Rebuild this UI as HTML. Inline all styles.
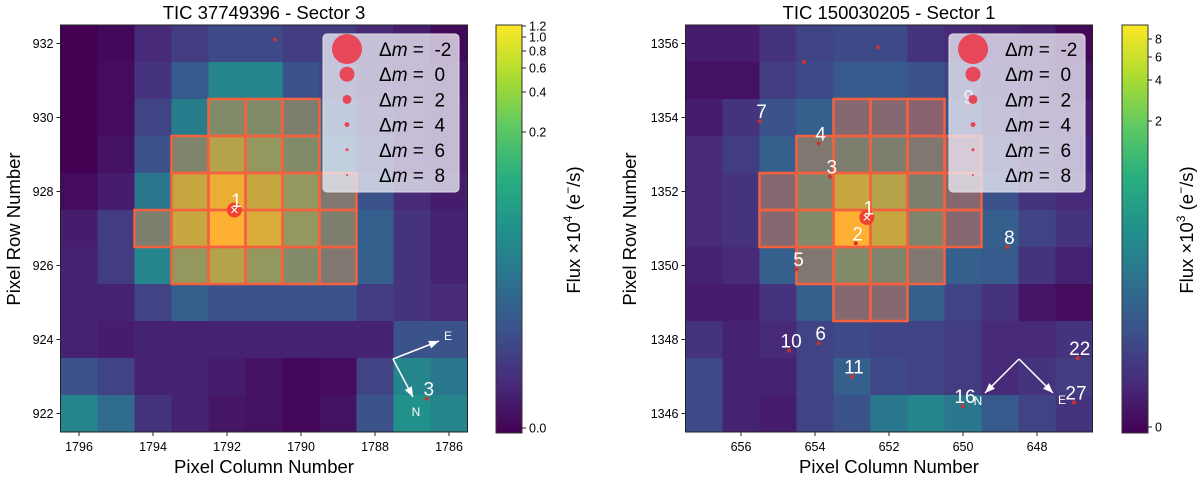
<!DOCTYPE html>
<html><head><meta charset="utf-8"><style>
html,body{margin:0;padding:0;background:#fff;}
svg{display:block;font-family:"Liberation Sans","DejaVu Sans",sans-serif;}
</style></head><body>
<svg id="fig" width="1200" height="477" viewBox="0 0 1200 477" xmlns="http://www.w3.org/2000/svg"></svg>
<script>
// ---------- data ----------
const leftRows = [932,931,930,929,928,927,926,925,924,923,922];
const leftCols = [1796,1795,1794,1793,1792,1791,1790,1789,1788,1787,1786];
const leftFlux = [
[0.0,0.02,0.12,0.18,0.22,0.22,0.18,0.18,0.12,0.08,0.02],
[0.0,0.03,0.15,0.28,0.45,0.45,0.25,0.2,0.12,0.08,0.05],
[0.0,0.03,0.2,0.42,0.6,0.6,0.5,0.3,0.15,0.1,0.06],
[0.0,0.05,0.25,0.55,0.8,0.7,0.6,0.35,0.2,0.1,0.06],
[0.03,0.08,0.4,0.85,0.95,0.85,0.7,0.45,0.25,0.12,0.08],
[0.08,0.18,0.5,0.85,1.0,0.9,0.7,0.5,0.3,0.15,0.1],
[0.1,0.18,0.45,0.7,0.8,0.7,0.6,0.45,0.3,0.15,0.1],
[0.1,0.1,0.2,0.3,0.25,0.25,0.25,0.25,0.18,0.15,0.12],
[0.1,0.08,0.1,0.1,0.1,0.1,0.1,0.1,0.1,0.25,0.25],
[0.25,0.2,0.1,0.1,0.08,0.05,0.02,0.03,0.2,0.45,0.4],
[0.45,0.35,0.15,0.1,0.06,0.05,0.02,0.05,0.25,0.5,0.45]];
const leftAperture = [[2,4],[2,5],[2,6],[3,3],[3,4],[3,5],[3,6],[4,3],[4,4],[4,5],[4,6],[4,7],
[5,2],[5,3],[5,4],[5,5],[5,6],[5,7],[6,3],[6,4],[6,5],[6,6],[6,7]];
const leftStars = [{id:"1",col:1791.8,row:927.5,main:true},{id:"3",col:1786.6,row:922.4},{id:"",col:1790.7,row:932.1}];
const leftXTicks = [1796,1794,1792,1790,1788,1786];
const leftYTicks = [932,930,928,926,924,922];
const leftCbTicks = [["1.2",26],["1.0",37],["0.8",51],["0.6",68],["0.4",92],["0.2",132],["0.0",428]];

const rightRows = [1356,1355,1354,1353,1352,1351,1350,1349,1348,1347,1346];
const rightCols = [657,656,655,654,653,652,651,650,649,648,647];
const rightFlux = [
[0.08,0.08,0.15,0.2,0.22,0.22,0.15,0.12,0.1,0.08,0.02],
[0.05,0.05,0.18,0.22,0.28,0.28,0.25,0.2,0.12,0.08,0.05],
[0.08,0.15,0.25,0.3,0.35,0.35,0.3,0.25,0.15,0.1,0.08],
[0.12,0.18,0.3,0.45,0.5,0.5,0.45,0.3,0.2,0.12,0.1],
[0.12,0.15,0.35,0.55,0.85,0.8,0.5,0.35,0.25,0.15,0.12],
[0.12,0.15,0.35,0.6,1.0,0.85,0.55,0.35,0.3,0.2,0.15],
[0.1,0.12,0.3,0.45,0.6,0.55,0.45,0.3,0.28,0.15,0.1],
[0.08,0.08,0.15,0.3,0.35,0.35,0.3,0.2,0.15,0.06,0.03],
[0.15,0.1,0.12,0.2,0.22,0.2,0.2,0.18,0.12,0.12,0.15],
[0.22,0.1,0.1,0.2,0.3,0.22,0.2,0.18,0.12,0.15,0.18],
[0.22,0.1,0.08,0.2,0.25,0.4,0.45,0.4,0.28,0.2,0.15]];
const rightAperture = [[2,4],[2,5],[2,6],[3,3],[3,4],[3,5],[3,6],[3,7],[4,2],[4,3],[4,4],[4,5],[4,6],[4,7],
[5,2],[5,3],[5,4],[5,5],[5,6],[5,7],[6,3],[6,4],[6,5],[6,6],[7,4],[7,5]];
const rightStars = [
{id:"1",col:652.6,row:1351.3,main:true},{id:"2",col:652.9,row:1350.6},{id:"3",col:653.6,row:1352.4},
{id:"4",col:653.9,row:1353.3},{id:"5",col:654.5,row:1349.9},{id:"6",col:653.9,row:1347.9},
{id:"7",col:655.5,row:1353.9},{id:"8",col:648.8,row:1350.5},{id:"9",col:649.9,row:1354.3},
{id:"10",col:654.7,row:1347.7},{id:"11",col:653.0,row:1347.0},{id:"16",col:650.0,row:1346.2},
{id:"22",col:646.9,row:1347.5},{id:"27",col:647.0,row:1346.3},{id:"18",col:646.2,row:1351.0},
{id:"",col:654.3,row:1355.5},{id:"",col:652.3,row:1355.9}];
const rightXTicks = [656,654,652,650,648];
const rightYTicks = [1356,1354,1352,1350,1348,1346];
const rightCbTicks = [["8",39],["6",57],["4",80],["2",121],["0",427]];

const legendMags = [-2,0,2,4,6,8];
const legendRadius = [15,7.5,4.5,2.5,1.5,1];

// ---------- helpers ----------
const NS="http://www.w3.org/2000/svg";
const svg=document.getElementById('fig');
function mk(tag,attrs,parent){const e=document.createElementNS(NS,tag);for(const k in attrs)e.setAttribute(k,attrs[k]);(parent||svg).appendChild(e);return e;}
const vstops=[[0,[68,1,84]],[0.125,[71,44,122]],[0.25,[59,82,139]],[0.375,[44,114,142]],[0.5,[33,145,140]],[0.625,[40,174,128]],[0.75,[94,201,98]],[0.875,[173,220,48]],[1,[253,231,37]]];
function viridis(t){t=Math.max(0,Math.min(1,t));for(let i=1;i<vstops.length;i++){if(t<=vstops[i][0]){const a=vstops[i-1],b=vstops[i];const f=(t-a[0])/(b[0]-a[0]);const c=a[1].map((v,j)=>Math.round(v+(b[1][j]-v)*f));return `rgb(${c[0]},${c[1]},${c[2]})`;}}return 'rgb(253,231,37)';}

const defs=mk('defs',{});
const grad=mk('linearGradient',{id:'vir',x1:0,y1:1,x2:0,y2:0},defs);
vstops.forEach(s=>mk('stop',{offset:s[0],'stop-color':viridis(s[0])},grad));

function panel(o){
  const g=mk('g',{});
  
  
  const cell=37, x0=o.x0, y0=o.y0, n=11;
  const xs=c=>x0+(o.cols[0]+0.5-c)*cell;
  const ys=r=>y0+(o.rows[0]+0.5-r)*cell;
  const clipId=o.name+'-clip';
  const cp=mk('clipPath',{id:clipId},defs);mk('rect',{x:x0,y:y0,width:n*cell,height:n*cell},cp);
  const hm=mk('g',{'clip-path':`url(#${clipId})`},g);
  
  
  o.flux.forEach((row,i)=>row.forEach((v,j)=>{
    const r=mk('rect',{x:xs(o.cols[j])-cell/2,y:ys(o.rows[i])-cell/2,width:cell+0.5,height:cell+0.5,fill:viridis(v)},hm);
    
    
  }));
  o.aperture.forEach(([i,j])=>{
    const r=mk('rect',{x:xs(o.cols[j])-cell/2,y:ys(o.rows[i])-cell/2,width:cell,height:cell,fill:'rgba(255,99,71,0.42)',stroke:'#f5603f','stroke-width':2.5},hm);
    
    
  });
  o.stars.forEach(s=>{
    const cx=xs(s.col), cy=ys(s.row);
    if(s.main){
      const c=mk('circle',{cx,cy,r:7.5,fill:'#f0402f'},hm);
      
      
      const t=mk('text',{x:cx,y:cy+5,'font-size':15,fill:'#fff','text-anchor':'middle'},hm);t.textContent='×';
    } else {
      const c=mk('circle',{cx,cy,r:2,fill:'#c8342f'},hm);
      
      
    }
    if(s.id){
      const t=mk('text',{x:cx+2,y:cy-3,'font-size':19,fill:'#fff','text-anchor':'middle'},hm);
      
      
      t.textContent=s.id;
    }
  });
  // compass
  const cg=mk('g',{stroke:'#fff','stroke-width':1.5,fill:'#fff'},hm);
  
  
  o.compass.forEach(a=>{
    const [x1,y1,x2,y2]=a.l;mk('line',{x1,y1,x2,y2},cg);
    const ang=Math.atan2(y2-y1,x2-x1),L=10,W=4;
    const bx=x2-L*Math.cos(ang),by=y2-L*Math.sin(ang);
    mk('polygon',{points:`${x2},${y2} ${bx-W*Math.sin(ang)},${by+W*Math.cos(ang)} ${bx+W*Math.sin(ang)},${by-W*Math.cos(ang)}`,stroke:'none'},cg);
    const t=mk('text',{x:a.t[0],y:a.t[1],'font-size':12,'text-anchor':'middle',stroke:'none'},cg);t.textContent=a.label;
  });
  // legend
  const lg=mk('g',{},g);
  
  
  mk('rect',{x:o.lx,y:34,width:136,height:158,rx:4,fill:'rgba(235,235,245,0.78)',stroke:'#ddd'},lg);
  legendMags.forEach((m,k)=>{
    const y=49+k*25.2;
    const e=mk('g',{},lg);
    
    
    mk('circle',{cx:o.lx+24,cy:y,r:legendRadius[k],fill:'#e8475a'},e);
    const t=mk('text',{x:o.lx+56,y:y+7,'font-size':19,fill:'#000'},e);
    t.innerHTML=`Δ<tspan font-style="italic">m</tspan> =  ${m}`;
    t.style.whiteSpace='pre';
  });
  // frame
  mk('rect',{x:x0,y:y0,width:n*cell,height:n*cell,fill:'none',stroke:'#222','stroke-width':1},g);
  // ticks
  o.xticks.forEach(v=>{const x=xs(v);mk('line',{x1:x,y1:y0+n*cell,x2:x,y2:y0+n*cell+4,stroke:'#222'},g);
    const t=mk('text',{x,y:y0+n*cell+19,'font-size':12.5,'text-anchor':'middle'},g);
    
    t.textContent=v;});
  o.yticks.forEach(v=>{const y=ys(v);mk('line',{x1:x0-4,y1:y,x2:x0,y2:y,stroke:'#222'},g);
    const t=mk('text',{x:x0-7,y:y+4.5,'font-size':12.5,'text-anchor':'end'},g);
    
    t.textContent=v;});
  const cxm=x0+n*cell/2;
  const tt=mk('text',{x:cxm,y:19,'font-size':18.5,'text-anchor':'middle'},g);
  
  tt.textContent=o.title;
  const xl=mk('text',{x:cxm,y:473,'font-size':18.5,'text-anchor':'middle'},g);
  
  xl.textContent='Pixel Column Number';
  const yl=mk('text',{x:0,y:0,'font-size':18.5,'text-anchor':'middle',transform:`translate(${o.ylx},229) rotate(-90)`},g);
  
  yl.textContent='Pixel Row Number';
  // colorbar
  const cb=mk('g',{},g);
  
  
  mk('rect',{x:o.cbx,y:25,width:26,height:408,fill:'url(#vir)',stroke:'#333','stroke-width':1},cb);
  o.cbticks.forEach(([lab,y])=>{mk('line',{x1:o.cbx+26,y1:y,x2:o.cbx+30,y2:y,stroke:'#222'},cb);
    const t=mk('text',{x:o.cbx+33,y:y+4.5,'font-size':12.5},cb);t.textContent=lab;});
  const cl=mk('text',{x:0,y:0,'font-size':18.5,'text-anchor':'middle',transform:`translate(${o.cblx},230) rotate(-90)`},cb);
  
  
  cl.innerHTML=`Flux ×10<tspan font-size="12" dy="-8">${o.exp}</tspan><tspan dy="8"> (e</tspan><tspan font-size="12" dy="-8">−</tspan><tspan dy="8">/s)</tspan>`;
}

panel({name:'left-panel',title:'TIC 37749396 - Sector 3',x0:60.5,y0:25,rows:leftRows,cols:leftCols,flux:leftFlux,aperture:leftAperture,stars:leftStars,
  xticks:leftXTicks,yticks:leftYTicks,cbticks:leftCbTicks,cbx:496,cblx:580,exp:'4',lx:323,ylx:20,
  compass:[{l:[393,359,439,341],t:[448,340],label:'E'},{l:[393,359,413,397],t:[416,416],label:'N'}]});
panel({name:'right-panel',title:'TIC 150030205 - Sector 1',x0:685.5,y0:25,rows:rightRows,cols:rightCols,flux:rightFlux,aperture:rightAperture,stars:rightStars,
  xticks:rightXTicks,yticks:rightYTicks,cbticks:rightCbTicks,cbx:1122,cblx:1193,exp:'3',lx:949,ylx:636,
  compass:[{l:[1019,359,985,393],t:[978,405],label:'N'},{l:[1019,359,1053,393],t:[1062,404],label:'E'}]});
</script>
</body></html>
